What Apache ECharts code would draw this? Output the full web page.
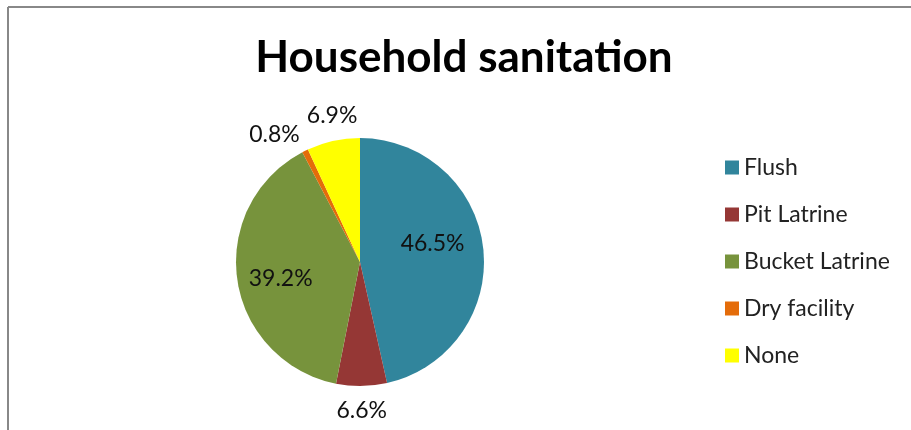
<!DOCTYPE html>
<html>
<head>
<meta charset="utf-8">
<script src="https://cdn.jsdelivr.net/npm/echarts@6/dist/echarts.min.js"></script>
<style>html,body{margin:0;padding:0;background:#fff;}#c{width:911px;height:430px;}</style>
</head>
<body>
<div id="c"></div>
<script>
const categories = ['Flush', 'Pit Latrine', 'Bucket Latrine', 'Dry facility', 'None'];
const values = [46.5, 6.6, 39.2, 0.8, 6.9];
const colors = ['#31859C', '#953735', '#77933C', '#E46C0A', '#FFFF00'];
const labelPos = ['inside', 'outside', 'inside', 'outside', 'outside'];
// small nudges of the data labels (Excel "best fit" placement)
const labelNudge = [[8, -11], [-35, 10], [-15, 7], [11, -3], [37, -11]];

const chart = echarts.init(document.getElementById('c'));
const fontFam = 'Lato, "Open Sans", sans-serif';
chart.setOption({
  animation: false,
  title: {
    text: 'Household sanitation',
    left: 459, top: 31, textAlign: 'center',
    textStyle: { fontFamily: fontFam, fontWeight: 'bold', fontSize: 44, color: '#000' }
  },
  legend: {
    orient: 'vertical',
    left: 720, top: 151,
    itemWidth: 14, itemHeight: 14, itemGap: 24,
    icon: 'rect',
    textStyle: { fontFamily: fontFam, fontSize: 23, color: '#222' },
    data: categories
  },
  graphic: [
    { type: 'line', shape: { x1: 8, y1: 7, x2: 911, y2: 7 }, style: { stroke: '#888', lineWidth: 2 } },
    { type: 'line', shape: { x1: 8, y1: 7, x2: 8, y2: 430 }, style: { stroke: '#888', lineWidth: 2 } }
  ],
  series: [{
    type: 'pie',
    center: [360, 262],
    radius: 124,
    startAngle: 90,
    clockwise: true,
    avoidLabelOverlap: false,
    labelLine: { show: false },
    itemStyle: { borderWidth: 0 },
    labelLayout: function (p) {
      const n = labelNudge[p.dataIndex];
      return { hideOverlap: false, align: 'center', verticalAlign: 'middle', dx: n[0], dy: n[1] };
    },
    label: {
      fontFamily: fontFam, fontSize: 23, color: '#111',
      formatter: p => p.value.toFixed(1) + '%'
    },
    data: categories.map((c, i) => ({
      name: c, value: values[i],
      itemStyle: { color: colors[i] },
      label: { position: labelPos[i], distance: 10 }
    }))
  }]
});
</script>
</body>
</html>
